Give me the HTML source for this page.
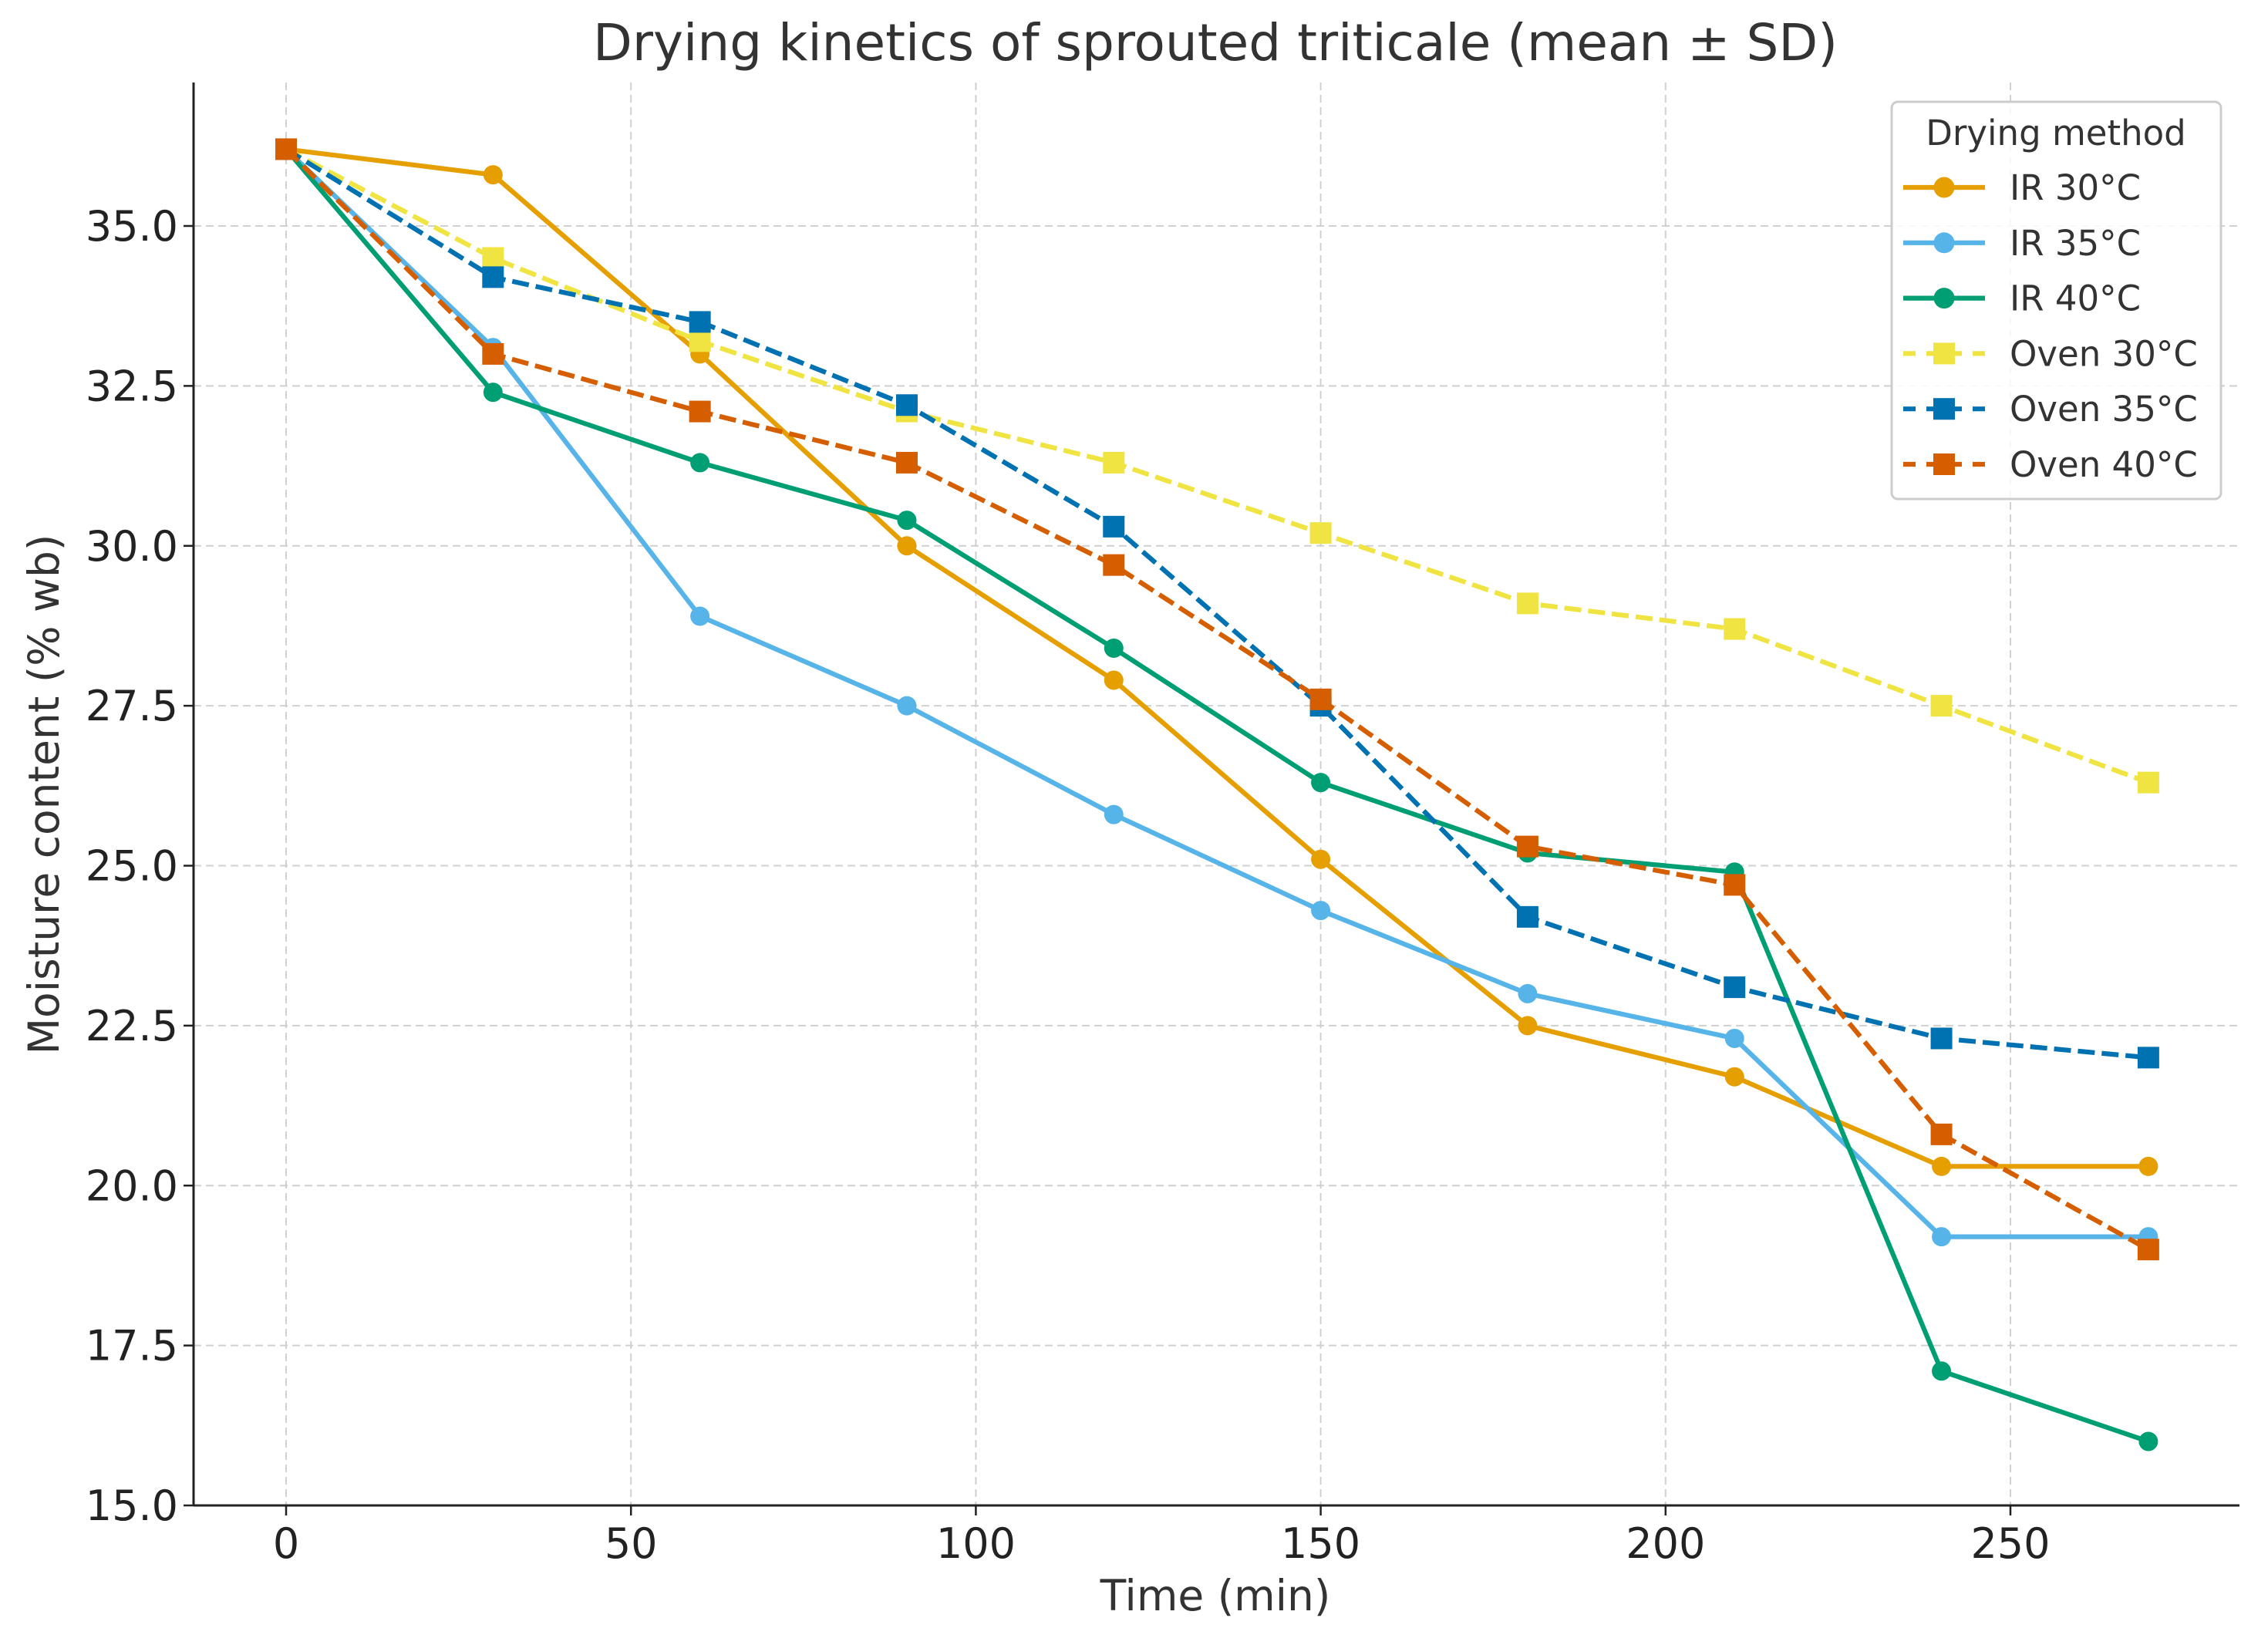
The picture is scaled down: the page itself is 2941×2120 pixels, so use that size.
<!DOCTYPE html>
<html><head><meta charset="utf-8"><style>
html,body{margin:0;padding:0;background:#fff;}
svg{display:block;font-family:"DejaVu Sans","Liberation Sans",sans-serif;}
</style></head>
<body>
<svg id="chart" width="2941" height="2120" viewBox="0 0 2941 2120" xmlns="http://www.w3.org/2000/svg">
<rect x="0" y="0" width="2941" height="2120" fill="#fff"/>
<text x="1576" y="78" font-size="66" fill="#333" text-anchor="middle">Drying kinetics of sprouted triticale (mean ± SD)</text>
<g id="grid"></g>
<g id="series"></g>
<g id="axes"></g>
<g id="legend"></g>
</svg>
<script>
const times = [0,30,60,90,120,150,180,210,240,270];
const seriesNames = ["IR 30°C","IR 35°C","IR 40°C","Oven 30°C","Oven 35°C","Oven 40°C"];
const ir30 = [36.2,35.8,33.0,30.0,27.9,25.1,22.5,21.7,20.3,20.3];
const ir35 = [36.2,33.1,28.9,27.5,25.8,24.3,23.0,22.3,19.2,19.2];
const ir40 = [36.2,32.4,31.3,30.4,28.4,26.3,25.2,24.9,17.1,16.0];
const oven30 = [36.2,34.5,33.2,32.1,31.3,30.2,29.1,28.7,27.5,26.3];
const oven35 = [36.2,34.2,33.5,32.2,30.3,27.5,24.2,23.1,22.3,22.0];
const oven40 = [36.2,33.0,32.1,31.3,29.7,27.6,25.3,24.7,20.8,19.0];
const xTicks = [0,50,100,150,200,250];
const yTicks = [15.0,17.5,20.0,22.5,25.0,27.5,30.0,32.5,35.0];

const NS="http://www.w3.org/2000/svg";
const L=251,R=2904,T=107,B=1952;
function xs(v){return 371+(v-0)*(2607-371)/250;}
function ys(v){return 1952-(v-15)*(1952-293)/20;}
function mk(tag,attrs,parent){const e=document.createElementNS(NS,tag);for(const k in attrs)e.setAttribute(k,attrs[k]);parent.appendChild(e);return e;}
const grid=document.getElementById('grid'),axes=document.getElementById('axes'),ser=document.getElementById('series'),leg=document.getElementById('legend');

xTicks.forEach(t=>{
  const g=mk('line',{x1:xs(t),x2:xs(t),y1:T,y2:B,stroke:'#d0d0d0','stroke-width':2,'stroke-dasharray':'10,6'},grid);
  
  
  const tk=mk('line',{x1:xs(t),x2:xs(t),y1:B,y2:B+13,stroke:'#222','stroke-width':2.5},axes);
  
  
  const tx=mk('text',{x:xs(t),y:2020,'font-size':54,fill:'#222','text-anchor':'middle'},axes);
  tx.textContent=t;
  
  
});
yTicks.forEach(t=>{
  const g=mk('line',{x1:L,x2:R,y1:ys(t),y2:ys(t),stroke:'#d0d0d0','stroke-width':2,'stroke-dasharray':'10,6'},grid);
  
  
  const tk=mk('line',{x1:L-13,x2:L,y1:ys(t),y2:ys(t),stroke:'#222','stroke-width':2.5},axes);
  
  
  const tx=mk('text',{x:L-20,y:ys(t)+19,'font-size':54,fill:'#222','text-anchor':'end'},axes);
  tx.textContent=t.toFixed(1);
  
  
});
const sp1=mk('line',{x1:L,x2:L,y1:T,y2:B,stroke:'#222','stroke-width':3},axes);


const sp2=mk('line',{x1:L,x2:R,y1:B,y2:B,stroke:'#222','stroke-width':3},axes);


const xl=mk('text',{x:1576,y:2088,'font-size':55,fill:'#333','text-anchor':'middle'},axes);
xl.textContent='Time (min)';


const yl=mk('text',{x:0,y:0,'font-size':55,fill:'#333','text-anchor':'middle',transform:'translate(76,1030) rotate(-90)'},axes);
yl.textContent='Moisture content (% wb)';



const allSeries=[ir30,ir35,ir40,oven30,oven35,oven40];
const colors=['#E69F00','#56B4E9','#009E73','#F0E442','#0072B2','#D55E00'];
const dashed=[false,false,false,true,true,true];
const slugs=['ir-30','ir-35','ir-40','oven-30','oven-35','oven-40'];
function marker(parent,x,y,i,size){
  let m;
  if(dashed[i]) m=mk('rect',{x:x-size,y:y-size,width:size*2,height:size*2,fill:colors[i]},parent);
  else m=mk('circle',{cx:x,cy:y,r:size,fill:colors[i]},parent);
  return m;
}
allSeries.forEach((vals,i)=>{
  const g=mk('g',{},ser);
  
  
  const pts=vals.map((v,j)=>xs(times[j])+','+ys(v)).join(' ');
  const pl=mk('polyline',{points:pts,fill:'none',stroke:colors[i],'stroke-width':6.2,'stroke-linejoin':'round'},g);
  if(dashed[i]) pl.setAttribute('stroke-dasharray','22,9');
  
  
  vals.forEach((v,j)=>{
    const m=marker(g,xs(times[j]),ys(v),i,dashed[i]?14:12.5);
    
    
  });
});

// legend
const box=mk('rect',{x:2453,y:132,width:427,height:515,rx:8,fill:'#fff','fill-opacity':0.85,stroke:'#ccc','stroke-width':3},leg);


const lt=mk('text',{x:2666,y:188,'font-size':45,fill:'#333','text-anchor':'middle'},leg);
lt.textContent='Drying method';


seriesNames.forEach((n,i)=>{
  const y=243+i*71.8;
  const g=mk('g',{},leg);
  
  
  const ln=mk('line',{x1:2468,x2:2574,y1:y,y2:y,stroke:colors[i],'stroke-width':6.2},g);
  if(dashed[i]) ln.setAttribute('stroke-dasharray','16,14');
  
  
  const m=marker(g,2521,y,i,dashed[i]?14:13.5);
  
  
  const t=mk('text',{x:2606,y:y+16,'font-size':45,fill:'#333'},g);
  t.textContent=n;
  
  
});
</script>
</body></html>
